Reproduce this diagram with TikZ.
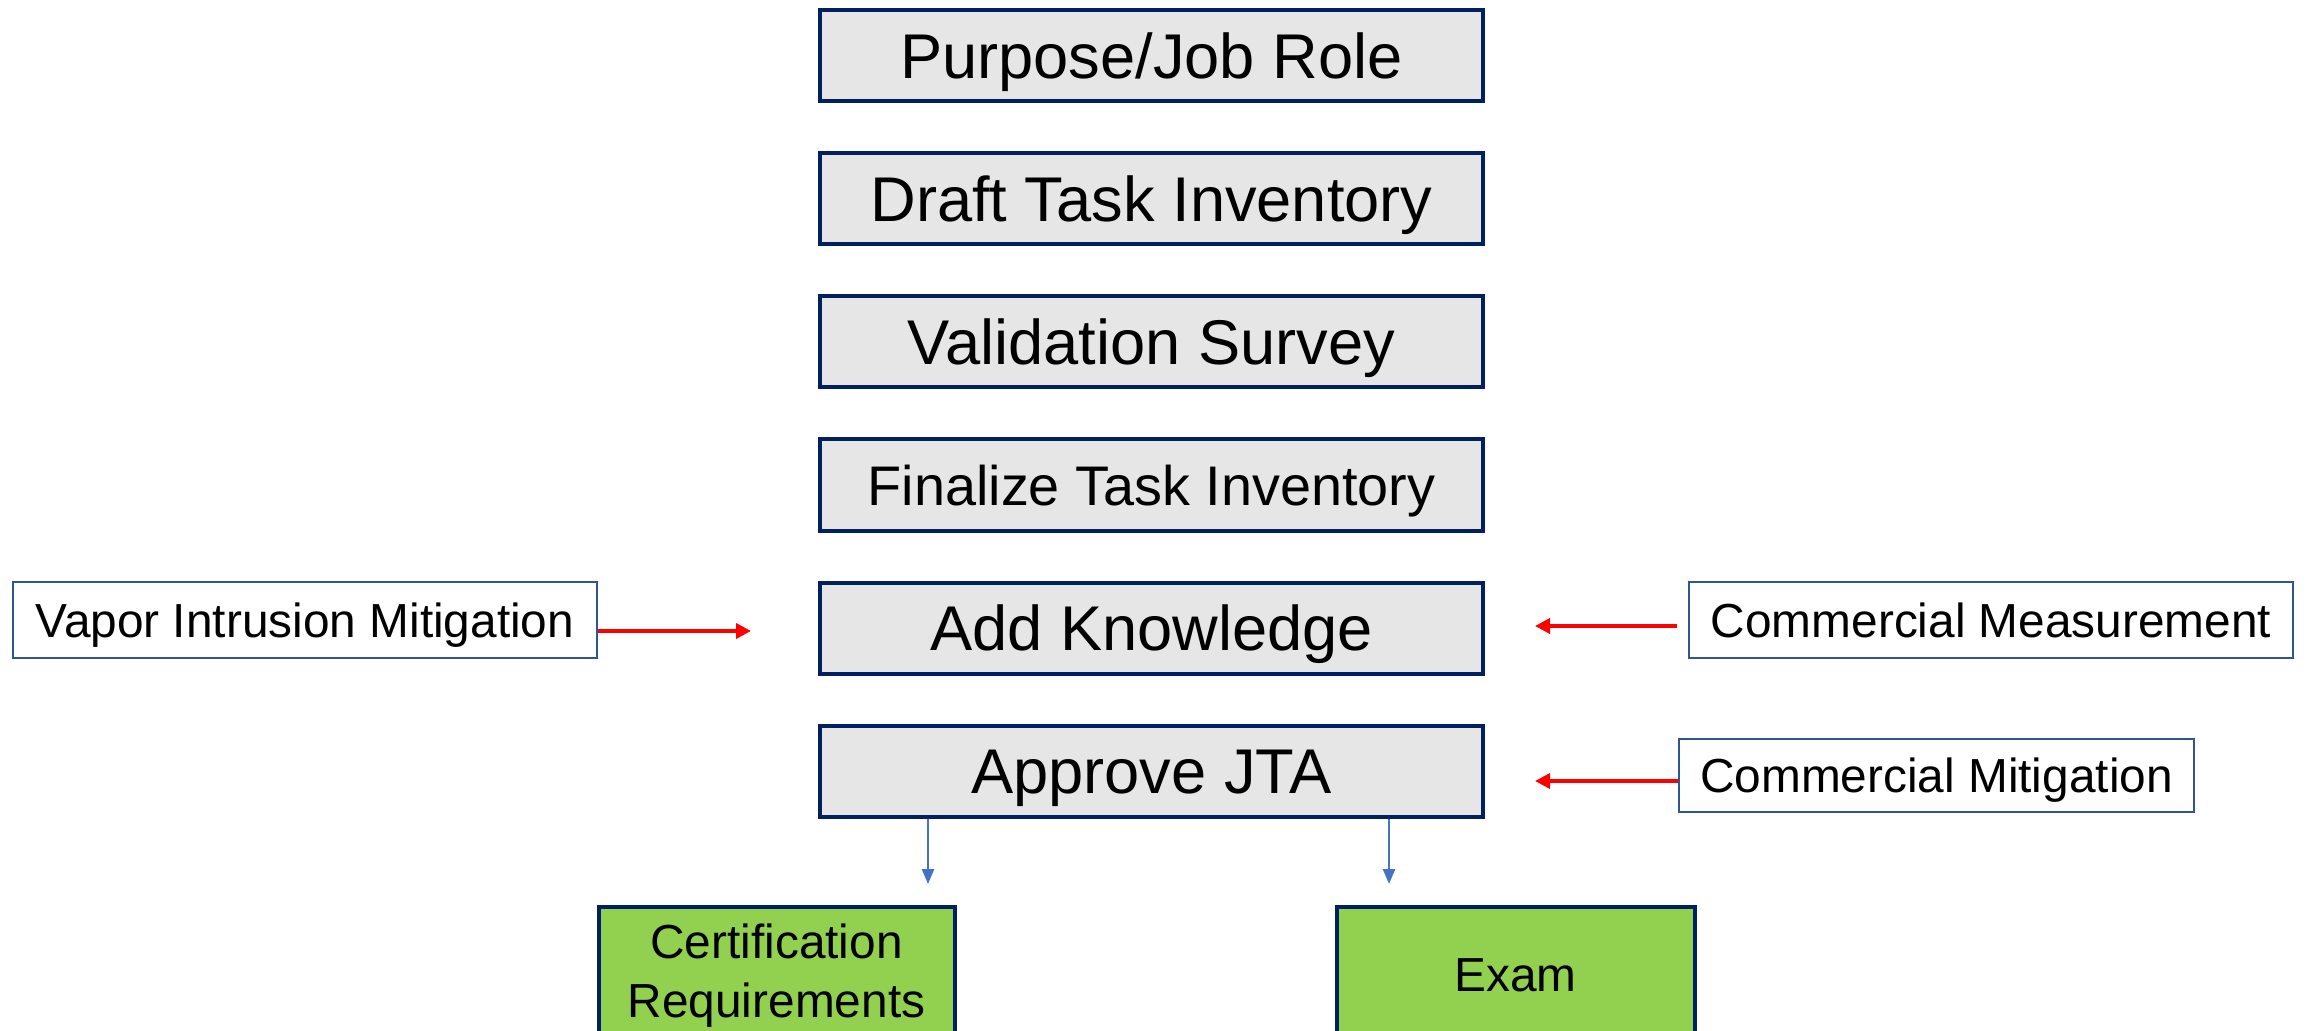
\documentclass[tikz,border=0pt]{standalone}
\usepackage{fontspec}
\setmainfont{Liberation Sans}
\usetikzlibrary{positioning, arrows.meta}

\definecolor{navy}{HTML}{002060}
\definecolor{boxgray}{HTML}{E7E6E6}
\definecolor{sideblue}{HTML}{2F5597}
\definecolor{leaf}{HTML}{92D050}
\definecolor{linkblue}{HTML}{4472C4}

\begin{document}
\begin{tikzpicture}[x=0.5pt, y=0.5pt, node distance=24pt,
	stepbox/.style={rectangle, draw=navy, line width=2pt, fill=boxgray, minimum width=331.5pt, minimum height=45.5pt, inner sep=0pt, font=\fontsize{31.6}{38}\selectfont, text height=22.6pt, text depth=0pt},
	sidebox/.style={rectangle, draw=sideblue, line width=1pt, fill=white, minimum height=38pt, inner sep=0pt, font=\fontsize{23.9}{29.5}\selectfont, text height=17.1pt, text depth=0pt},
	outbox/.style={rectangle, draw=navy, line width=2pt, fill=leaf, minimum width=178pt, minimum height=69pt, inner sep=0pt, align=center, font=\fontsize{23.9}{29.5}\selectfont},
	feed/.style={-{Triangle[length=7.5pt, width=7.5pt]}, red, line width=1.8pt},
	lead/.style={-{Triangle[length=7.5pt, width=6pt]}, linkblue, line width=1.3pt}]
			\useasboundingbox (0,0) rectangle (2310,-1031);

			% Nodes
			\node (Purpose) [stepbox] at (1151.5,-56) {Purpose/Job Role};
			\node (Draft) [stepbox, below=of Purpose] {Draft Task Inventory};
			\node (Survey) [stepbox, below=of Draft] {Validation Survey};
			\node (Finalize) [stepbox, below=of Survey, font=\fontsize{27.9}{34}\selectfont, text height=20pt] {Finalize Task Inventory};
			\node (Add) [stepbox, below=of Finalize] {Add Knowledge};
			\node (Approve) [stepbox, below=of Add] {Approve JTA};

			\node (Vapor) [sidebox, minimum width=292pt, left=110pt of Add, yshift=4pt] {Vapor Intrusion Mitigation};
			\node (Meas) [sidebox, minimum width=302pt, right=101.5pt of Add, yshift=4pt] {Commercial Measurement};
			\node (Mit) [sidebox, minimum width=257.5pt, minimum height=36.5pt, right=96.5pt of Approve, yshift=-2pt] {Commercial Mitigation};

			\node (Cert) [outbox, below=43pt of Approve, xshift=-187.5pt] {Certification\\Requirements};
			\node (Exam) [outbox, minimum width=179pt, below=43pt of Approve, xshift=182pt] {Exam};

			\coordinate (vtip) at (751,-631);
			\coordinate (mtip) at (1535,-626);
			\coordinate (gtip) at (1535,-781);
			\coordinate (ctip) at (928,-884);
			\coordinate (etip) at (1389,-884);

			% Arrows
			\draw[feed] (Vapor.east |- vtip) -- (vtip);
			\draw[feed, shorten <=5.5pt] (Meas.west |- mtip) -- (mtip);
			\draw[feed] (Mit.west |- gtip) -- (gtip);
			\draw[lead] (Approve.south -| ctip) -- (ctip);
			\draw[lead] (Approve.south -| etip) -- (etip);
		\end{tikzpicture}
\end{document}
